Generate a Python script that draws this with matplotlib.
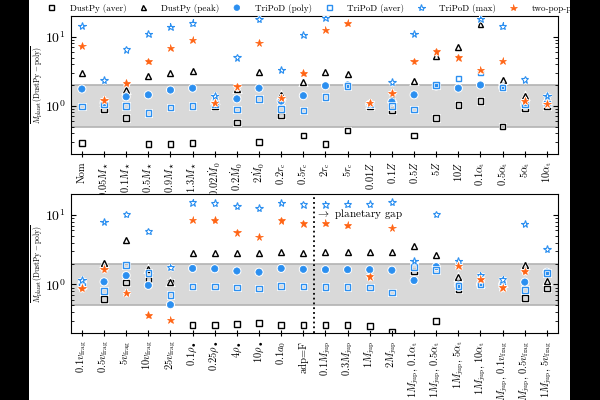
import numpy as np
import matplotlib
matplotlib.use("Agg")
import matplotlib.pyplot as plt
import matplotlib.patheffects as pe
from matplotlib.patches import Rectangle

plt.rcParams["font.family"] = "serif"
plt.rcParams["font.serif"] = ["cmr10", "DejaVu Serif"]
plt.rcParams["mathtext.fontset"] = "cm"
plt.rcParams["axes.formatter.use_mathtext"] = True
plt.rcParams["axes.unicode_minus"] = False

nan = np.nan

labels_top = [
    "Nom", r"$0.05M_\star$", r"$0.1M_\star$", r"$0.5M_\star$", r"$0.9M_\star$",
    r"$1.3M_\star$", r"$0.02\dot{M}_0$", r"$0.2\dot{M}_0$", r"$2\dot{M}_0$",
    r"$0.2r_{\rm c}$", r"$0.5r_{\rm c}$", r"$2r_{\rm c}$", r"$5r_{\rm c}$",
    r"$0.01Z$", r"$0.1Z$", r"$0.5Z$", r"$5Z$", r"$10Z$",
    r"$0.1\alpha_{\rm t}$", r"$0.5\alpha_{\rm t}$", r"$5\alpha_{\rm t}$", r"$10\alpha_{\rm t}$",
]
labels_bot = [
    r"$0.1v_{\rm frag}$", r"$0.5v_{\rm frag}$", r"$5v_{\rm frag}$", r"$10v_{\rm frag}$",
    r"$25v_{\rm frag}$", r"$0.1\rho_\bullet$", r"$0.25\rho_\bullet$", r"$4\rho_\bullet$",
    r"$10\rho_\bullet$", r"$0.1a_0$", r"adp=F", r"$0.1M_{\rm jup}$", r"$0.3M_{\rm jup}$",
    r"$1M_{\rm jup}$", r"$2M_{\rm jup}$", r"$1M_{\rm jup},\,0.1\alpha_{\rm t}$",
    r"$1M_{\rm jup},\,0.5\alpha_{\rm t}$", r"$1M_{\rm jup},\,5\alpha_{\rm t}$",
    r"$1M_{\rm jup},\,10\alpha_{\rm t}$", r"$1M_{\rm jup},\,0.1v_{\rm frag}$",
    r"$1M_{\rm jup},\,0.5v_{\rm frag}$", r"$1M_{\rm jup},\,5v_{\rm frag}$",
]

dustpy_aver_top = [0.29, 0.9, 0.67, 0.28, 0.28, 0.29, 1.0, 0.57, 0.3, 0.72, 0.37,
                   0.28, 0.44, 1.0, 0.85, 0.37, 0.67, 1.03, 1.18, 0.5, 0.93, 1.0]
dustpy_peak_top = [2.96, 1.15, 1.7, 2.7, 2.96, 3.16, 1.2, 1.75, 3.05, 1.43, 2.2,
                   3.07, 2.87, 1.05, 1.3, 2.27, 5.3, 7.2, 15.4, 2.35, 1.38, 1.22]
tripod_poly_top = [1.75, 1.1, 1.35, 1.44, 1.69, 1.8, 1.12, 1.26, 1.8, 1.17, 1.4,
                   1.95, 2.0, 1.05, 1.14, 1.44, 1.93, 1.8, 2.0, 1.85, 1.03, 1.1]
tripod_aver_top = [0.97, 1.05, 1.0, 0.79, 0.94, 1.0, 1.07, 0.88, 1.26, 0.9, 0.85,
                   1.33, 1.93, 1.05, 1.0, 0.88, 2.0, 2.5, 3.1, 1.85, 1.05, 1.08]
tripod_max_top = [14.4, 2.35, 6.5, 11.0, 13.9, 15.8, 1.39, 5.0, 18.0, 3.3, 10.7,
                  18.7, 15.8, 1.05, 2.2, 11.0, 6.1, 5.0, 18.1, 14.2, 2.4, 1.39]
twopop_top = [7.4, 1.2, 2.13, 4.4, 6.9, 9.0, 1.1, 1.9, 8.2, 1.3, 2.96,
              12.6, 15.8, 1.1, 1.52, 4.4, 6.1, 5.0, 3.3, 4.5, 1.18, 1.07]

dustpy_aver_bot = [1.0, 0.62, 1.07, 1.18, 1.07, 0.26, 0.26, 0.27, 0.28, 0.26, 0.26,
                   0.26, 0.26, 0.25, 0.205, 1.53, 0.3, 0.86, 1.0, 1.0, 0.64, 0.87]
dustpy_peak_bot = [1.03, 2.06, 4.3, 1.67, 1.1, 2.84, 2.84, 2.84, 2.84, 2.9, 2.87,
                   2.9, 2.9, 2.9, 2.97, 3.6, 2.63, 1.28, 1.05, 1.05, 1.93, 1.13]
tripod_poly_bot = [1.0, 1.09, 1.34, 0.97, 0.51, 1.7, 1.68, 1.56, 1.5, 1.7, 1.65,
                   1.63, 1.63, 1.63, 1.6, 1.14, 1.8, 0.98, 1.0, 1.0, 1.08, 1.5]
tripod_aver_bot = [0.97, 0.8, 1.9, 1.46, 0.7, 0.93, 0.93, 0.9, 0.87, 0.95, 0.93,
                   0.92, 0.92, 0.9, 0.77, 1.78, 1.6, 0.95, 1.0, 0.95, 0.83, 1.45]
tripod_max_bot = [1.17, 7.9, 10.2, 5.8, 1.76, 15.1, 14.8, 13.4, 12.5, 15.0, 14.1,
                  14.1, 14.3, 14.3, 15.3, 2.18, 10.2, 2.18, 1.34, 1.18, 7.4, 3.2]
twopop_bot = [0.88, 1.65, 0.76, 0.36, 0.31, 8.5, 8.4, 5.6, 4.85, 8.3, 7.5,
              7.6, 7.1, 1.3, 6.5, nan, nan, 1.84, 1.19, 0.9, 1.54, nan]

BLUE = "#2b8ff0"
ORANGE = "#ff6414"
halo = [pe.withStroke(linewidth=2, foreground="white")]


def plot_panel(ax, labels, series):
    x = np.arange(len(labels))
    ax.axhspan(0.5, 2.0, facecolor="#d9d9d9", edgecolor="#b3b3b3", lw=1.2, zorder=0)
    styles = [
        ("DustPy (aver)", dict(marker="s", mfc="none", mec="black", ms=4.0, mew=1.0)),
        ("DustPy (peak)", dict(marker="^", mfc="none", mec="black", ms=4.3, mew=1.0)),
        ("TriPoD (poly)", dict(marker="o", mfc=BLUE, mec=BLUE, ms=4.5, mew=0.5)),
        ("TriPoD (aver)", dict(marker="s", mfc="none", mec=BLUE, ms=4.0, mew=1.0)),
        ("TriPoD (max)", dict(marker="*", mfc="none", mec=BLUE, ms=5.5, mew=0.8)),
        ("two-pop-py", dict(marker="*", mfc=ORANGE, mec=ORANGE, ms=5.5, mew=0.5)),
    ]
    for (name, st), y in zip(styles, series):
        ax.plot(x, y, ls="none", label=name, path_effects=halo, zorder=3, **st)
    ax.set_yscale("log")
    ax.set_ylim(0.2, 20)
    ax.set_xlim(-0.5, len(labels) - 0.5)
    ax.set_xticks(x)
    ax.set_xticklabels(labels, rotation=90, fontsize=7.5)
    ax.tick_params(axis="y", which="both", direction="in", right=True, labelsize=10)
    ax.tick_params(axis="x", direction="inout", length=4)
    ax.set_ylabel(r"$\dfrac{M_{\rm planet}}{M_{\rm planet}({\rm DustPy-poly})}$",
                  fontsize=5.5, labelpad=0.5)


fig = plt.figure(figsize=(6, 4), dpi=100)
ax1 = fig.add_axes([0.118, 0.615, 0.812, 0.345])
ax2 = fig.add_axes([0.118, 0.1675, 0.812, 0.3475])

plot_panel(ax1, labels_top, [dustpy_aver_top, dustpy_peak_top, tripod_poly_top,
                             tripod_aver_top, tripod_max_top, twopop_top])
plot_panel(ax2, labels_bot, [dustpy_aver_bot, dustpy_peak_bot, tripod_poly_bot,
                             tripod_aver_bot, tripod_max_bot, twopop_bot])

ax1.legend(loc="lower center", bbox_to_anchor=(0.49, 0.99), ncol=6, frameon=False,
           fontsize=6.5, handletextpad=1.0, columnspacing=0.9, borderaxespad=0.1,
           markerscale=0.9)

ax2.axvline(10.5, color="black", ls=":", lw=1.3)
ax2.text(10.55, 10.3, r"$\rightarrow$ planetary gap", fontsize=8, va="center", ha="left")

# dark strips at the sides, as in the original render
fig.add_artist(Rectangle((0, 0), 29 / 600, 1, transform=fig.transFigure,
                         facecolor="black", edgecolor="none", zorder=20))
fig.add_artist(Rectangle((570 / 600, 0), 30 / 600, 1, transform=fig.transFigure,
                         facecolor="black", edgecolor="none", zorder=20))

fig.savefig("out.png", dpi=100)
